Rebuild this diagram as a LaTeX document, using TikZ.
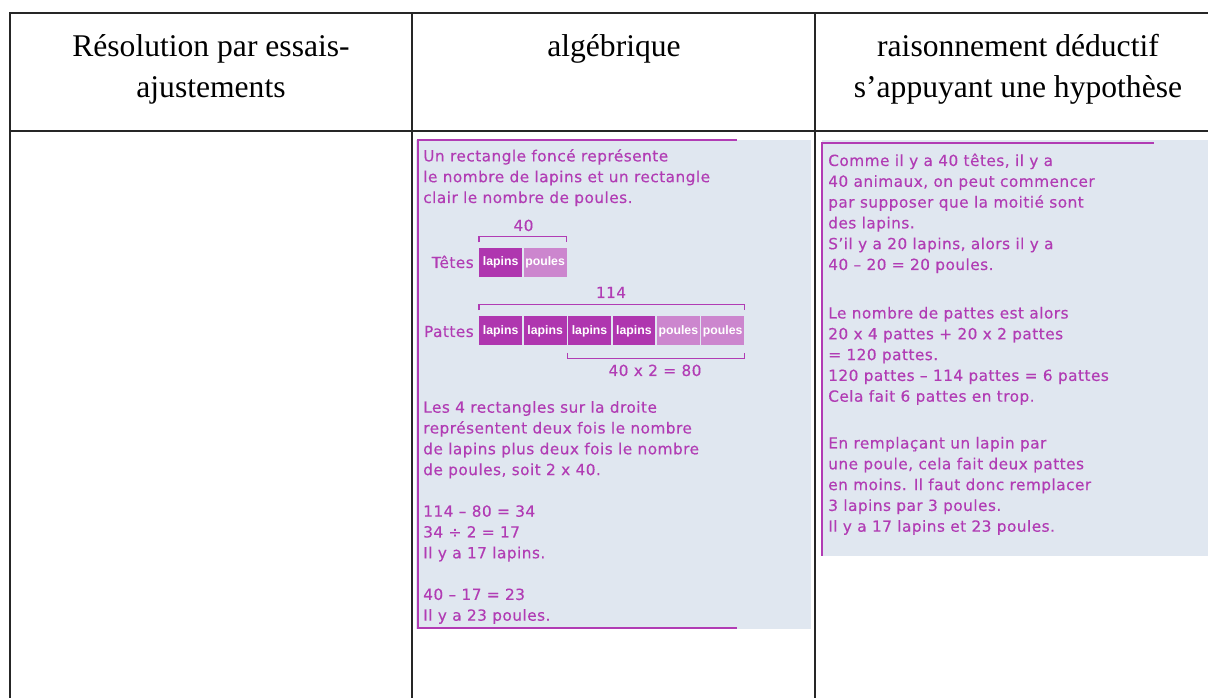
\documentclass[tikz,border=0pt]{standalone}
\usepackage{fontspec}
\setmainfont{Liberation Serif}
\newfontfamily\panelfont[LetterSpace=3,FakeBold=0.3]{DejaVu Sans}
\newfontfamily\barfont{Liberation Sans}
\definecolor{PanelBack}{HTML}{E0E7F0}
\definecolor{PanelPurple}{HTML}{B13CB4}
\definecolor{BarDark}{HTML}{AF36AF}
\definecolor{BarLight}{HTML}{CC86CE}
\usetikzlibrary{positioning}

\begin{document}
\begin{tikzpicture}[x=0.75pt,y=-0.75pt,
  rule/.style={black!85,line width=0.8pt},
  head/.style={font=\fontsize{23.7}{30.75}\selectfont,align=center,anchor=base,inner sep=0pt},
  panel/.style={font=\panelfont\fontsize{11.5}{15.6}\selectfont,text=PanelPurple,align=left,anchor=base west,inner sep=0pt},
  edge/.style={PanelPurple,line width=1.5pt},
  brace/.style={PanelPurple,line width=0.9pt},
  barbox/.style={minimum width=32.1pt,minimum height=21.75pt,inner sep=0pt,text=white,
    font=\barfont\bfseries\fontsize{9.2}{10}\selectfont}]
  \useasboundingbox (0,0) rectangle (1208,698);

  % table
  \draw[rule] (9,13) -- (1208,13);
  \draw[rule] (9,131) -- (1208,131);
  \foreach \x in {10,412,815} {
    \draw[rule] (\x,13) -- (\x,698);
  }
  % multi-line nodes sit on the baseline of their last line
  \node[head] (headtrial) at (211,98) {Résolution par essais-\\ajustements};
  \node[head] (headalg) at (614,57) {algébrique};
  \node[head] (headded) at (1018,98) {raisonnement déductif\\s’appuyant une hypothèse};

  % algebraic panel
  \fill[PanelBack] (416,140) rectangle (811,629);
  \draw[edge] (418,140) -- (418,628);
  \draw[edge] (417,140) -- (737,140);
  \draw[edge] (417,628) -- (737,628);

  \node[panel] (algintro) at (423,203) {Un rectangle foncé représente\\le nombre de lapins et un rectangle\\clair le nombre de poules.};

  \node[barbox,fill=BarDark] (t1) at (500.7,262.5) {lapins};
  \node[barbox,fill=BarLight] (t2) at (545.1,262.5) {poules};
  \node[panel,anchor=base east] (tetes) at (474,268) {Têtes};
  \draw[brace] ([yshift=4pt]t1.north west) -- ([yshift=8.5pt]t1.north west)
    -- ([yshift=8.5pt]t2.north east) -- ([yshift=4pt]t2.north east);
  \node[panel,anchor=base] (tetesum) at (523.5,231) {40};

  \foreach \i/\col/\txt in {1/BarDark/lapins,2/BarDark/lapins,3/BarDark/lapins,
      4/BarDark/lapins,5/BarLight/poules,6/BarLight/poules} {
    \node[barbox,fill=\col] (p\i) at ({500.7+44.4*(\i-1)},331) {\txt};
  }
  \node[panel,anchor=base east] (pattes) at (474,337) {Pattes};
  \draw[brace] ([yshift=4.5pt]p1.north west) -- ([yshift=9pt]p1.north west)
    -- ([yshift=9pt]p6.north east) -- ([yshift=4.5pt]p6.north east);
  \node[panel,anchor=base] (pattesum) at (611,298) {114};
  \draw[brace] ([yshift=-5.25pt]p3.south west) -- ([yshift=-9.75pt]p3.south west)
    -- ([yshift=-9.75pt]p6.south east) -- ([yshift=-5.25pt]p6.south east);
  \node[panel,anchor=base] (pattehalf) at (655,376) {40 x 2 = 80};

  \node[panel] (algsteps) at (423,620.7) {Les 4 rectangles sur la droite\\représentent deux fois le nombre\\de lapins plus deux fois le nombre\\de poules, soit 2 x 40.\\[15.6pt]114 – 80 = 34\\34 ÷ 2 = 17\\Il y a 17 lapins.\\[15.6pt]40 – 17 = 23\\Il y a 23 poules.};

  % deductive panel
  \fill[PanelBack] (822,140) rectangle (1208,556);
  \draw[edge] (822,142) -- (822,556);
  \draw[edge,line width=2pt] (822,143) -- (1154,143);

  \node[panel] (dedguess) at (828,270) {Comme il y a 40 têtes, il y a\\40 animaux, on peut commencer\\par supposer que la moitié sont\\des lapins.\\S’il y a 20 lapins, alors il y a\\40 – 20 = 20 poules.};
  \node[panel] (dedcount) at (828,401.7) {Le nombre de pattes est alors\\20 x 4 pattes + 20 x 2 pattes\\= 120 pattes.\\120 pattes – 114 pattes = 6 pattes\\Cela fait 6 pattes en trop.};
  \node[panel] (dedswap) at (828,531.7) {En remplaçant un lapin par\\une poule, cela fait deux pattes\\en moins. Il faut donc remplacer\\3 lapins par 3 poules.\\Il y a 17 lapins et 23 poules.};
\end{tikzpicture}
\end{document}
